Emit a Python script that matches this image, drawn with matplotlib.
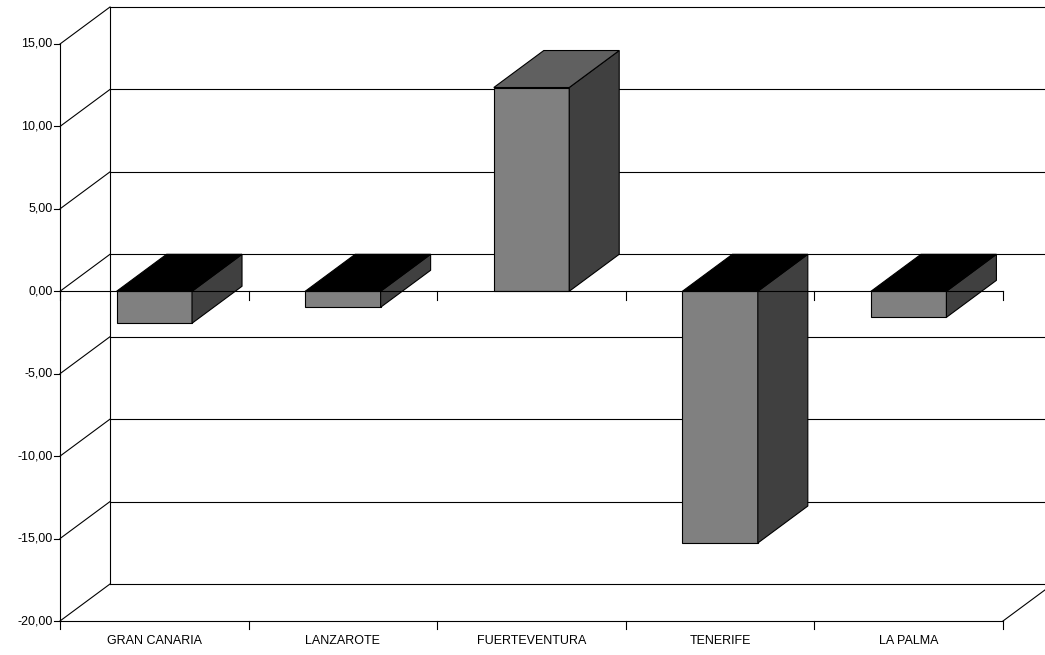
import matplotlib
matplotlib.use("Agg")
import matplotlib.pyplot as plt
from matplotlib.patches import Polygon

categories = ["GRAN CANARIA", "LANZAROTE", "FUERTEVENTURA", "TENERIFE", "LA PALMA"]
values = [-1.94, -0.97, 12.36, -15.27, -1.58]
yticks = [15, 10, 5, 0, -5, -10, -15, -20]

plt.rcParams['font.family'] = ['Liberation Sans', 'DejaVu Sans']
fig = plt.figure(figsize=(10.45, 6.55), dpi=100)
ax = fig.add_axes([60/1045, 34/655, 943/1045, 577/655])
ax.set_xlim(0, 5); ax.set_ylim(-20, 15)
ax.axis('off')
dx, dy = 50/943*5, 37/577*35
k = dict(color='black', lw=0.8, clip_on=False, zorder=2)

# back wall gridlines and wall
for t in yticks:
    ax.plot([dx, 5+dx], [t+dy, t+dy], **k)
    ax.plot([0, dx], [t, t+dy], **k)
ax.plot([dx, dx], [-20+dy, 15+dy], **k)
ax.plot([5, 5+dx], [-20, -20+dy], **k)
ax.plot([0, 0], [-20, 15], **k)
ax.plot([0, 5], [-20, -20], **k)
for i in range(6):
    ax.plot([i, i], [-20, -20.5], **k)
for t in yticks:
    ax.plot([-0.03, 0], [t, t], **k)
    ax.text(-0.04, t, f"{t:,.2f}".replace('.', ','), ha='right', va='center', fontsize=9)

w = 0.4
pk = dict(ec='black', lw=0.8, clip_on=False, zorder=3)
for i, v in enumerate(values):
    x0, x1 = i+0.5-w/2, i+0.5+w/2
    top = max(v, 0); bot = min(v, 0)
    ax.add_patch(Polygon([(x0, bot), (x1, bot), (x1, top), (x0, top)], fc='#808080', **pk))
    ax.add_patch(Polygon([(x1, bot), (x1+dx, bot+dy), (x1+dx, top+dy), (x1, top)], fc='#404040', **pk))
    tc = '#606060' if v > 0 else 'black'
    ax.add_patch(Polygon([(x0, top), (x1, top), (x1+dx, top+dy), (x0+dx, top+dy)], fc=tc, **pk))
    ax.text(i+0.5, -21.2, categories[i], ha='center', va='center', fontsize=9)

k4 = dict(k, zorder=4)
ax.plot([0, 5], [0, 0], **k4)
for i in range(6):
    ax.plot([i, i], [0, -0.5], **k4)

fig.savefig("out.png", dpi=100)
